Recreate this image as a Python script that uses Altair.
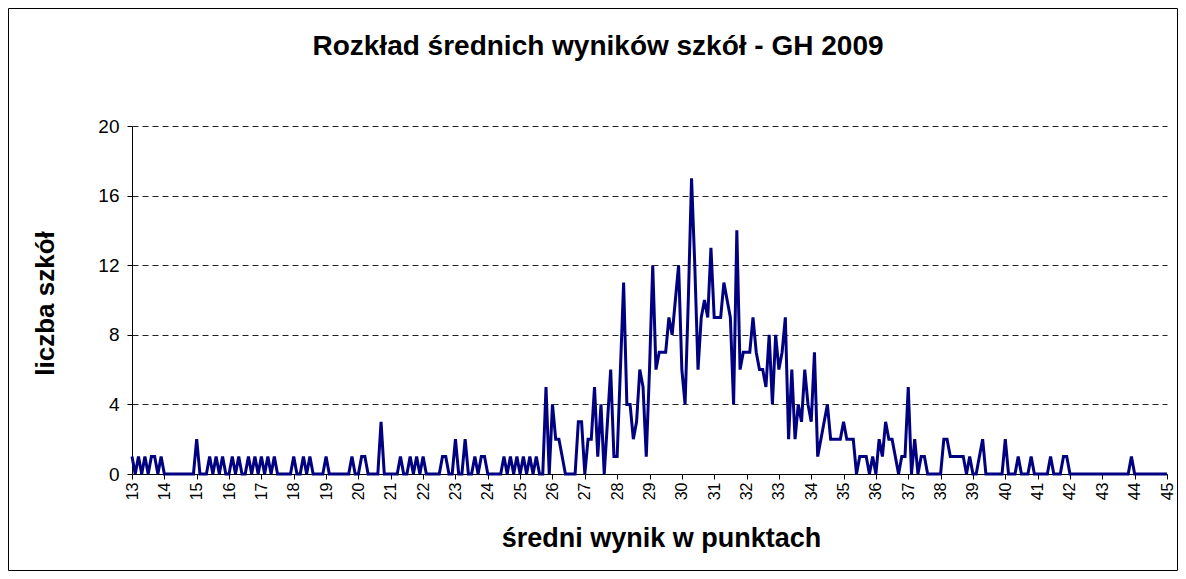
import altair as alt
import pandas as pd

# counts of schools per average score (step 0.1), one list per integer unit
counts_13 = [1, 0, 1, 0, 1, 0, 1, 1, 0, 1]
counts_14 = [0, 0, 0, 0, 0, 0, 0, 0, 0, 0]
counts_15 = [2, 0, 0, 0, 1, 0, 1, 0, 1, 0]
counts_16 = [0, 1, 0, 1, 0, 0, 1, 0, 1, 0]
counts_17 = [1, 0, 1, 0, 1, 0, 0, 0, 0, 0]
counts_18 = [1, 0, 0, 1, 0, 1, 0, 0, 0, 0]
counts_19 = [1, 0, 0, 0, 0, 0, 0, 0, 1, 0]
counts_20 = [0, 1, 1, 0, 0, 0, 0, 3, 0, 0]
counts_21 = [0, 0, 0, 1, 0, 0, 1, 0, 1, 0]
counts_22 = [1, 0, 0, 0, 0, 0, 1, 1, 0, 0]
counts_23 = [2, 0, 0, 2, 0, 0, 1, 0, 1, 1]
counts_24 = [0, 0, 0, 0, 0, 1, 0, 1, 0, 1]
counts_25 = [0, 1, 0, 1, 0, 1, 0, 0, 5, 0]
counts_26 = [4, 2, 2, 1, 0, 0, 0, 0, 3, 3]
counts_27 = [0, 2, 2, 5, 1, 4, 0, 3, 6, 1]
counts_28 = [1, 6, 11, 4, 4, 2, 3, 6, 5, 1]
counts_29 = [6, 12, 6, 7, 7, 7, 9, 8, 10, 12]
counts_30 = [6, 4, 10, 17, 12, 6, 9, 10, 9, 13]
counts_31 = [9, 9, 9, 11, 10, 9, 4, 14, 6, 7]
counts_32 = [7, 7, 9, 7, 6, 6, 5, 8, 4, 8]
counts_33 = [6, 7, 9, 2, 6, 2, 4, 3, 6, 4]
counts_34 = [3, 7, 1, 2, 3, 4, 2, 2, 2, 2]
counts_35 = [3, 2, 2, 2, 0, 1, 1, 1, 0, 1]
counts_36 = [0, 2, 1, 3, 2, 2, 1, 0, 1, 1]
counts_37 = [5, 0, 2, 0, 1, 1, 0, 0, 0, 0]
counts_38 = [0, 2, 2, 1, 1, 1, 1, 1, 0, 1]
counts_39 = [0, 0, 1, 2, 0, 0, 0, 0, 0, 0]
counts_40 = [2, 0, 0, 0, 1, 0, 0, 0, 1, 0]
counts_41 = [0, 0, 0, 0, 1, 0, 0, 0, 1, 1]
counts_42 = [0, 0, 0, 0, 0, 0, 0, 0, 0, 0]
counts_43 = [0, 0, 0, 0, 0, 0, 0, 0, 0, 1]
counts_44 = [0, 0, 0, 0, 0, 0, 0, 0, 0, 0]
counts_45 = [0]

x_ticks = list(range(13, 46))
y_ticks = [0, 4, 8, 12, 16, 20]

TITLE = "Rozkład średnich wyników szkół - GH 2009"
X_TITLE = "średni wynik w punktach"
Y_TITLE = "liczba szkół"

segments = [counts_13, counts_14, counts_15, counts_16, counts_17, counts_18,
            counts_19, counts_20, counts_21, counts_22, counts_23, counts_24,
            counts_25, counts_26, counts_27, counts_28, counts_29, counts_30,
            counts_31, counts_32, counts_33, counts_34, counts_35, counts_36,
            counts_37, counts_38, counts_39, counts_40, counts_41, counts_42,
            counts_43, counts_44, counts_45]
counts = [c for seg in segments for c in seg]
scores = [round(13 + i / 10, 1) for i in range(len(counts))]
df = pd.DataFrame({"wynik": scores, "liczba": counts})

FONT = "Liberation Sans"
W, H = 1035, 348
PAD = {"left": 124, "top": 118, "right": 11, "bottom": 97}

border = alt.Chart(pd.DataFrame({"b": [0]})).mark_rect(
    fill="transparent", fillOpacity=0, stroke="black", strokeWidth=1
).encode(
    x=alt.value(-PAD["left"] + 0.5),
    x2=alt.value(W + PAD["right"] - 0.5),
    y=alt.value(-PAD["top"] + 0.5),
    y2=alt.value(H + PAD["bottom"] - 0.5),
)

line = alt.Chart(df).mark_line(color="#000080", strokeWidth=3).encode(
    x=alt.X(
        "wynik:Q",
        scale=alt.Scale(domain=[13, 45], nice=False, zero=False),
        axis=alt.Axis(
            values=x_ticks, format="d", labelAngle=-90, labelFontSize=16,
            labelColor="black", labelPadding=3, labelOverlap=False,
            labelFlush=False, tickSize=5, tickColor="black",
            domainColor="black", grid=False,
            title=X_TITLE, titleFontSize=27, titleFontWeight="bold",
            titleColor="black", titleX=529, titleY=64, titleAlign="center",
            titleBaseline="middle",
        ),
    ),
    y=alt.Y(
        "liczba:Q",
        scale=alt.Scale(domain=[0, 20], nice=False),
        axis=alt.Axis(
            values=y_ticks, labelFontSize=19, labelColor="black",
            labelPadding=8, tickSize=5, tickColor="black",
            domainColor="black", grid=True, gridDash=[6, 4],
            gridColor="#222222", gridWidth=1,
            title=Y_TITLE, titleFontSize=26, titleFontWeight="bold",
            titleColor="black", titleAngle=-90, titleX=-87, titleY=177,
            titleAlign="center", titleBaseline="middle",
        ),
    ),
)

title = alt.Chart(pd.DataFrame({"t": [TITLE]})).mark_text(
    font=FONT, fontSize=28, fontWeight="bold", color="black",
    align="center", baseline="middle",
).encode(x=alt.value(466), y=alt.value(-79), text="t:N")

chart = alt.layer(border, line, title).properties(
    width=W, height=H, padding=PAD,
    autosize=alt.AutoSizeParams(type="none"),
    background="white",
).configure_view(stroke="transparent").configure_axis(
    labelFont=FONT, titleFont=FONT
)

chart.save("out.html", embed_options={"renderer": "svg", "actions": False})
